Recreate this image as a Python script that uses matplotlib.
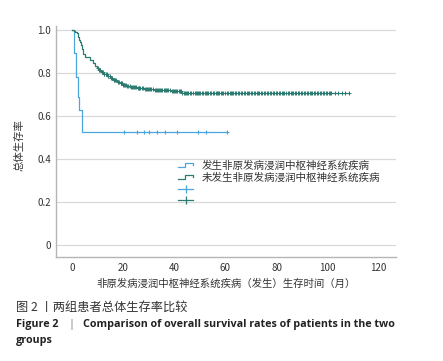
import matplotlib
matplotlib.use('Agg')
import matplotlib.pyplot as plt
import numpy as np
from matplotlib.lines import Line2D
from matplotlib.legend_handler import HandlerBase

plt.rcParams['font.family'] = ['Noto Sans CJK SC', 'DejaVu Sans']

# ---------------------------------------------------------------------------
# data (months, survival probability)
# ---------------------------------------------------------------------------
# group with CNS infiltration (发生)
occ_t = [0, 0.7, 1.45, 2.1, 2.6, 3.9, 60.5]
occ_s = [1.0, 0.893, 0.783, 0.69, 0.628, 0.527, 0.527]
occ_cens = [20.3, 25.2, 28.2, 30.2, 33.1, 36.2, 41.1, 49.3, 52.3, 60.5]

# group without CNS infiltration (未发生)
non_t = [0, 0.7, 1.2, 1.7, 2.2, 2.6, 3.0, 3.4, 3.8, 4.3, 5.0, 6.9, 8.2, 9.0,
         9.6, 10.5, 11.3, 12.1, 13.5, 14.8, 16.0, 17.4, 18.7, 20.0, 21.3,
         22.6, 25.2, 28.0, 31.7, 35.0, 38.3, 42.9, 108.5]
non_s = [1.0, 0.997, 0.99, 0.985, 0.97, 0.955, 0.945, 0.93, 0.91, 0.89,
         0.875, 0.862, 0.848, 0.835, 0.825, 0.815, 0.805, 0.795, 0.785,
         0.777, 0.768, 0.76, 0.752, 0.745, 0.738, 0.733, 0.729, 0.725,
         0.721, 0.719, 0.717, 0.706, 0.706]
non_cens = [10.2, 10.6, 11.0, 11.5, 11.9, 12.3, 12.6, 13.0, 13.4, 13.8,
            14.1, 14.7, 15.3, 15.7, 16.2, 16.5, 16.9, 17.3, 17.8, 18.4,
            18.9, 19.2, 19.6, 20.0, 20.4, 20.8, 21.1, 21.5, 21.9, 22.4,
            22.9, 23.3, 23.8, 24.1, 24.4, 25.0, 25.6, 26.0, 26.3, 26.7,
            27.1, 27.8, 28.4, 28.8, 29.2, 29.7, 30.1, 30.6, 31.0, 31.6,
            32.2, 32.6, 33.0, 33.5, 33.9, 34.4, 34.8, 35.3, 35.9, 36.4,
            36.8, 37.2, 37.6, 38.2, 38.9, 39.3, 39.7, 40.1, 40.6, 41.2,
            41.8, 42.1, 42.5, 43.0, 43.6, 44.1, 44.7, 45.1, 45.5, 46.0,
            46.6, 47.2, 47.9, 48.3, 48.8, 49.2, 49.6, 50.1, 50.7, 51.3,
            51.9, 52.4, 52.8, 53.3, 53.9, 54.5, 55.0, 55.5, 56.1, 56.5,
            57.0, 57.6, 58.3, 58.7, 59.2, 59.8, 60.4, 61.0, 61.6, 62.0,
            62.5, 63.1, 63.7, 64.2, 64.8, 65.4, 66.0, 66.5, 67.1, 67.7,
            68.3, 68.7, 69.2, 69.9, 70.5, 71.0, 71.6, 72.2, 72.8, 73.3,
            73.9, 74.5, 75.1, 75.6, 76.2, 76.8, 77.4, 77.9, 78.5, 79.1,
            79.8, 80.3, 80.9, 81.5, 82.1, 82.6, 83.0, 83.7, 84.3, 84.9,
            85.5, 86.0, 86.6, 87.2, 87.8, 88.3, 88.9, 89.5, 90.1, 90.6,
            91.2, 91.8, 92.4, 93.0, 93.6, 94.0, 94.5, 95.2, 95.8, 96.3,
            96.9, 97.5, 98.1, 98.6, 99.2, 99.8, 100.4, 100.9, 101.5,
            102.9, 104.2, 105.6, 106.9, 108.5]

labels = ['发生非原发病浸润中枢神经系统疾病', '未发生非原发病浸润中枢神经系统疾病']
blue = '#4ba6dc'
green = '#2b7b70'
caption_cn = '图 2 丨两组患者总体生存率比较'
caption_en = ['Figure 2', '|',
              'Comparison of overall survival rates of patients in the two',
              'groups']


def surv_at(t, s, c):
    # survival value of the step function at censor times
    idx = np.searchsorted(t, c, side='right') - 1
    return np.asarray(s)[idx]


class StepHandler(HandlerBase):
    # small step-shaped legend icon
    def create_artists(self, legend, orig, xd, yd, w, h, fs, trans):
        x = [-xd, -xd + 0.45 * w, -xd + 0.45 * w, -xd + w, -xd + w]
        y = [-yd + 0.25 * h, -yd + 0.25 * h, -yd + 0.8 * h, -yd + 0.8 * h, -yd + 0.45 * h]
        ln = Line2D(x, y, color=orig.get_color(), lw=orig.get_linewidth())
        ln.set_transform(trans)
        return [ln]


fig = plt.figure(figsize=(4.43, 3.61), dpi=100)
ax = fig.add_axes([0.1264, 0.288, 0.7675, 0.640])

ax.step(occ_t, occ_s, where='post', color=blue, lw=0.9)
ax.step(non_t, non_s, where='post', color=green, lw=0.9)
ax.plot(occ_cens, surv_at(occ_t, occ_s, occ_cens), ls='none', marker='+',
        ms=3.5, mew=0.8, color=blue)
ax.plot(non_cens, surv_at(non_t, non_s, non_cens), ls='none', marker='+',
        ms=2.8, mew=0.7, color=green)

ax.set_xlim(-6.4, 126.8)
ax.set_ylim(-0.056, 1.019)
ax.set_xticks([0, 20, 40, 60, 80, 100, 120])
ax.set_yticks([0, 0.2, 0.4, 0.6, 0.8, 1.0])
ax.set_yticklabels(['0', '0.2', '0.4', '0.6', '0.8', '1.0'])
ax.tick_params(length=0, labelsize=7, colors='#333333')
ax.tick_params(axis='y', pad=3.5)
ax.tick_params(axis='x', pad=4.5)
ax.yaxis.grid(True, color='#d9d9d9', lw=0.9)
ax.set_axisbelow(True)
for sp in ['top', 'right']:
    ax.spines[sp].set_visible(False)
for sp in ['left', 'bottom']:
    ax.spines[sp].set_color('#b5b5b5')
    ax.spines[sp].set_linewidth(1.0)

ax.set_xlabel('非原发病浸润中枢神经系统疾病（发生）生存时间（月）', fontsize=7.5,
              color='#333333', labelpad=4)
fig.text(20 / 443, 1 - 145 / 361, '总体生存率', rotation=90, fontsize=7.5,
         ha='center', va='center', color='#333333')

# legend
h1 = Line2D([], [], color=blue, lw=0.9)
h2 = Line2D([], [], color=green, lw=0.9)
h3 = Line2D([], [], color=blue, lw=0.9, marker='|', ms=6, mew=0.9)
h4 = Line2D([], [], color=green, lw=0.9, marker='|', ms=6, mew=0.9)
leg = ax.legend([h1, h2, h3, h4], labels + ['', ''],
                handler_map={h1: StepHandler(), h2: StepHandler()},
                loc='upper left', bbox_to_anchor=(0.36, 0.418),
                frameon=False, fontsize=7.6, handlelength=1.4,
                handletextpad=0.8, labelspacing=0.15, borderpad=0,
                borderaxespad=0)
for t in leg.get_texts():
    t.set_color('#333333')

# caption
fig.text(16 / 443, 1 - 307 / 361, caption_cn, fontsize=8.8,
         va='center', ha='left', color='#333333')
fig.text(16 / 443, 1 - 325 / 361, caption_en[0], fontsize=7.75,
         fontweight='bold', family='Open Sans', va='center', ha='left',
         color='#222222')
fig.text(71 / 443, 1 - 325 / 361, caption_en[1], fontsize=7.75,
         family='Open Sans', va='center', ha='center', color='#777777')
fig.text(83 / 443, 1 - 325 / 361, caption_en[2], fontsize=7.75,
         fontweight='bold', family='Open Sans', va='center', ha='left',
         color='#222222')
fig.text(16 / 443, 1 - 341 / 361, caption_en[3], fontsize=7.75,
         fontweight='bold', family='Open Sans', va='center', ha='left',
         color='#222222')

fig.savefig('out.png', dpi=100)
